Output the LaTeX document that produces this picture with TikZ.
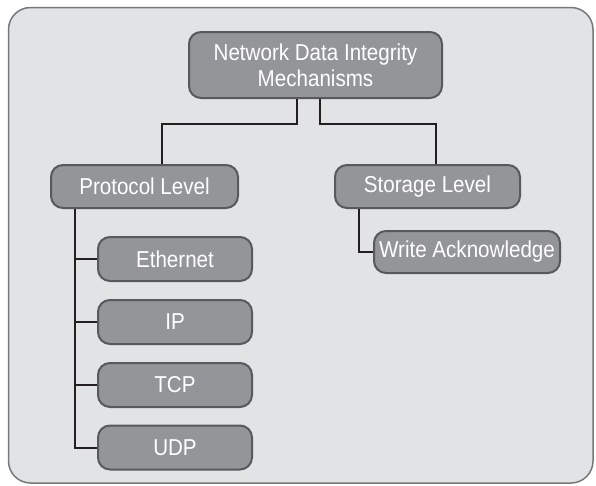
\documentclass[tikz,border=0pt]{standalone}
\usepackage{fontspec}
\setmainfont{Liberation Sans}[FakeStretch=0.895]
\usetikzlibrary{calc}
\definecolor{bgfill}{HTML}{E2E3E5}
\definecolor{bgline}{HTML}{77787B}
\definecolor{boxfill}{HTML}{939598}
\definecolor{boxline}{HTML}{58595B}
\definecolor{conn}{HTML}{231F20}
\tikzset{
  box/.style={draw=boxline, line width=2pt, fill=boxfill, rounded corners=12pt,
    text=white, font=\fontsize{23}{26}\selectfont, align=center, inner sep=0pt},
  link/.style={draw=conn, line width=2pt}
}
\begin{document}
\begin{tikzpicture}[x=1pt,y=-1pt]
\useasboundingbox (0,0) rectangle (596,485);
\draw[draw=bgline, line width=1.5pt, fill=bgfill, rounded corners=22pt] (8.5,7.5) rectangle (593,483);
\node[box, minimum width=253pt, minimum height=66pt] (root) at (315.5,65) {Network Data Integrity\\Mechanisms};
\node[box, minimum width=187pt, minimum height=43pt] (proto) at (144.5,186.5) {Protocol Level};
\node[box, minimum width=185pt, minimum height=43pt] (stor) at (427.5,186.5) {Storage Level};
\node[box, minimum width=154pt, minimum height=44pt] (eth) at (175,259) {Ethernet};
\node[box, minimum width=154pt, minimum height=44pt] (ip) at (175,322) {IP};
\node[box, minimum width=154pt, minimum height=44pt] (tcp) at (175,385) {TCP};
\node[box, minimum width=154pt, minimum height=44pt] (udp) at (175,447.5) {UDP};
\node[box, minimum width=186pt, minimum height=42pt] (wa) at (467,252) {Write Acknowledge};
\coordinate (j1) at (297,124);
\coordinate (j2) at (162,124);
\coordinate (j3) at (320,124);
\coordinate (j4) at (436,124);
\coordinate (pv) at (75,0);
\coordinate (sv) at (359,0);
\draw[link] (root.south -| j1) -- (j1) -- (j2) -- (proto.north -| j2);
\draw[link] (root.south -| j3) -- (j3) -- (j4) -- (stor.north -| j4);
\draw[link] (proto.south -| pv) |- (udp.west);
\draw[link] (eth.west -| pv) -- (eth.west);
\draw[link] (ip.west -| pv) -- (ip.west);
\draw[link] (tcp.west -| pv) -- (tcp.west);
\draw[link] (stor.south -| sv) |- (wa.west);
\end{tikzpicture}
\end{document}
